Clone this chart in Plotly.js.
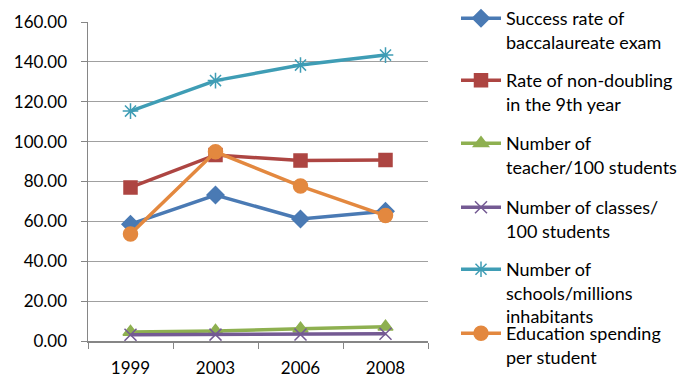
<!DOCTYPE html>
<html>
<head>
<meta charset="utf-8">
<script src="https://cdn.plot.ly/plotly-3.0.1.min.js"></script>
<style>
  html, body { margin: 0; padding: 0; background: #fff; }
  #chart { width: 690px; height: 378px; }
</style>
</head>
<body>
<div id="chart"></div>
<script>
// Survey years
const years = ['1999', '2003', '2006', '2008'];

// Indicator series
const successRate        = [58.6, 73.2, 61.2, 65.1];
const nonDoublingRate    = [77.0, 93.3, 90.5, 90.8];
const teachersPer100     = [4.5, 5.0, 6.2, 7.1];
const classesPer100      = [3.1, 3.2, 3.3, 3.6];
const schoolsPerMillion  = [115.3, 130.6, 138.4, 143.4];
const spendingPerStudent = [53.7, 94.9, 77.7, 62.9];

const seriesNames = [
  'Success rate of<br>baccalaureate exam',
  'Rate of non-doubling<br>in the 9th year',
  'Number of<br>teacher/100 students',
  'Number of classes/<br>100 students',
  'Number of<br>schools/millions<br>inhabitants',
  'Education spending<br>per student'
];

const seriesStyle = [
  { color: '#4A7AB4', symbol: 'diamond',       size: 13 },
  { color: '#AD4542', symbol: 'square',        size: 13 },
  { color: '#8EB050', symbol: 'triangle-up',   size: 13 },
  { color: '#745A93', symbol: 'x-thin-open',   size: 12 },
  { color: '#3F9DB5', symbol: 'asterisk-open', size: 13 },
  { color: '#E3883F', symbol: 'circle',        size: 14 }
];

const seriesValues = [successRate, nonDoublingRate, teachersPer100,
                      classesPer100, schoolsPerMillion, spendingPerStudent];

// One legend box per series so every key sits at its own height
const legendIds = ['legend', 'legend2', 'legend3', 'legend4', 'legend5', 'legend6'];
const legendTops = [16, 80, 143, 207, 269, 333];

const traces = seriesValues.map((vals, i) => ({
  type: 'scatter',
  mode: 'lines+markers',
  x: years,
  y: vals,
  name: seriesNames[i],
  legend: legendIds[i],
  line: { color: seriesStyle[i].color, width: 3.5 },
  marker: {
    color: seriesStyle[i].color,
    symbol: seriesStyle[i].symbol,
    size: seriesStyle[i].size,
    line: { color: seriesStyle[i].color, width: 1.5 }
  }
}));

const fontFamily = 'Lato, "Liberation Sans", sans-serif';
const tickFont = { family: fontFamily, size: 17, color: '#000' };

const layout = {
  width: 690,
  height: 378,
  margin: { l: 88, r: 262, t: 22, b: 37 },
  paper_bgcolor: '#fff',
  plot_bgcolor: '#fff',
  font: { family: fontFamily, size: 17, color: '#000' },
  showlegend: true,
  xaxis: {
    type: 'category',
    range: [-0.5, 3.5],
    tickson: 'boundaries',
    ticks: 'outside',
    ticklen: 6,
    tickcolor: '#868686',
    ticklabelstandoff: 11,
    showline: true,
    linecolor: '#868686',
    linewidth: 1.5,
    showgrid: false,
    zeroline: false,
    tickfont: tickFont,
    fixedrange: true
  },
  yaxis: {
    range: [0, 160],
    tick0: 0,
    dtick: 20,
    tickformat: '.2f',
    ticks: 'outside',
    ticklen: 6,
    tickcolor: '#868686',
    ticklabelstandoff: 10,
    showline: true,
    linecolor: '#868686',
    linewidth: 1.5,
    showgrid: true,
    gridcolor: '#A0A0A0',
    gridwidth: 1,
    zeroline: false,
    tickfont: tickFont,
    fixedrange: true
  }
};

legendIds.forEach((id, i) => {
  layout[id] = {
    xref: 'container', yref: 'container',
    x: 456 / 690,
    y: Math.min(1, 1 - (legendTops[i] - 18) / 378),
    xanchor: 'left', yanchor: 'top',
    valign: 'top',
    itemwidth: 40,
    font: { family: fontFamily, size: 18, color: '#000' },
    bgcolor: 'rgba(0,0,0,0)',
    borderwidth: 0
  };
});

Plotly.newPlot('chart', traces, layout, { displayModeBar: false, staticPlot: true });
</script>
</body>
</html>
